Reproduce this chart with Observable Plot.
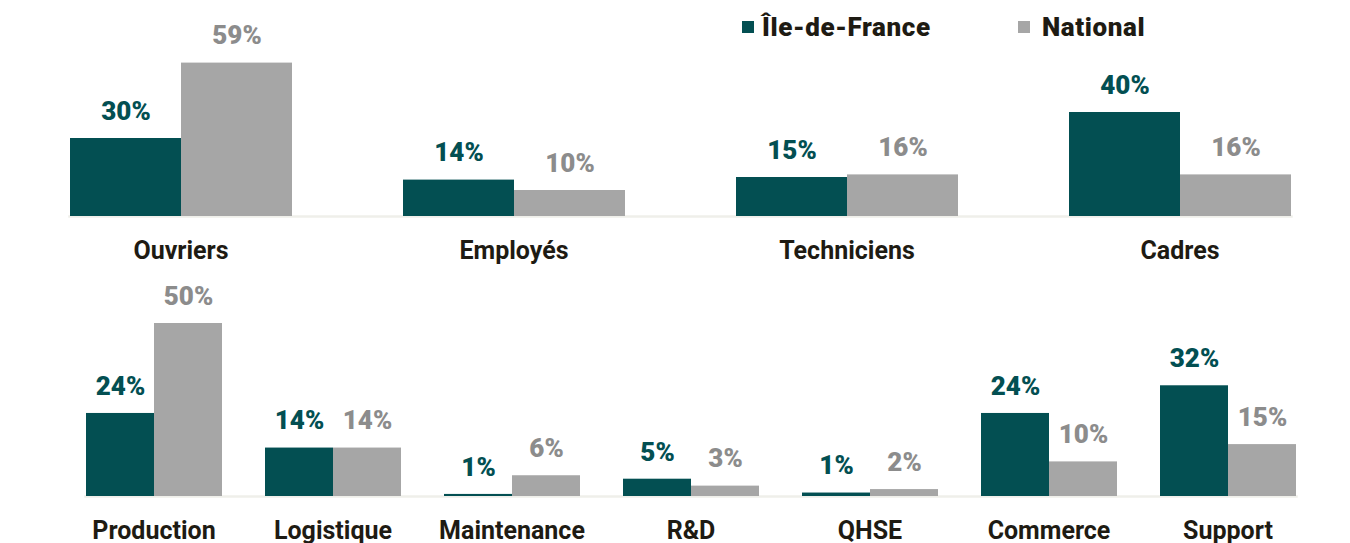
<!DOCTYPE html>
<html>
<head>
<meta charset="utf-8">
<script src="https://cdn.jsdelivr.net/npm/d3@7"></script>
<script src="https://cdn.jsdelivr.net/npm/@observablehq/plot@0.6"></script>
<style>
  html, body { margin: 0; padding: 0; background: #fff; }
  body { width: 1350px; height: 543px; position: relative; overflow: hidden; font-family: Roboto, "Noto Sans", sans-serif; }
  #legend { position: absolute; top: 0; left: 0; width: 1350px; height: 50px; z-index: 2; }
  .lg { position: absolute; display: flex; align-items: center; font-weight: 900; font-size: 26px; color: #1e1b13; letter-spacing: 0.6px; }
  .sw { width: 12px; height: 12px; }
  #top, #bottom { position: absolute; left: 0; }
  #top { top: 0; }
  #bottom { top: 275px; }
</style>
</head>
<body>
<div id="legend"></div>
<div id="top"></div>
<div id="bottom"></div>
<script>
// ---- data ----
const series = ["Île-de-France", "National"];
const seriesColors = ["#034f52", "#a6a6a6"];
const labelColors = ["#034f52", "#8c8c8c"];

const topCategories = ["Ouvriers", "Employés", "Techniciens", "Cadres"];
const topIdf = [30, 14, 15, 40];
const topNational = [59, 10, 16, 16];

const bottomCategories = ["Production", "Logistique", "Maintenance", "R&D", "QHSE", "Commerce", "Support"];
const bottomIdf = [24, 14, 0.6, 5, 1, 24, 32];
const bottomNational = [50, 14, 6, 3, 2, 10, 15];

// ---- build tables ----
function table(cats, a, b) {
  const rows = [];
  cats.forEach((c, i) => {
    rows.push({cat: c, series: series[0], value: a[i]});
    rows.push({cat: c, series: series[1], value: b[i]});
  });
  return rows;
}

function chart(cats, rows, opts) {
  return Plot.plot({
    width: 1350,
    height: opts.height,
    marginLeft: opts.left,
    marginRight: opts.right,
    marginTop: 0,
    marginBottom: opts.bottom,
    style: {fontFamily: "Roboto, 'Noto Sans', sans-serif", background: "transparent"},
    fx: {domain: cats, paddingInner: opts.pad, paddingOuter: opts.pad / 2, label: null, axis: null},
    x: {domain: series, padding: 0, axis: null},
    y: {domain: [0, opts.ymax], axis: null},
    color: {domain: series, range: seriesColors},
    marks: [
      Plot.frame({anchor: "bottom", facet: "super", stroke: "#efefea", strokeWidth: 2.5}),
      Plot.barY(rows, {fx: "cat", x: "series", y: "value", fill: "series"}),
      Plot.text(rows, {
        fx: "cat", x: "series", y: "value",
        text: d => Math.round(d.value) + "%",
        fill: d => labelColors[series.indexOf(d.series)],
        dy: -27, fontSize: 26, fontWeight: 900, letterSpacing: 1.2
      }),
      Plot.axisFx({anchor: "bottom", tickSize: 0, tickPadding: opts.tickPad, fontSize: 25, fontWeight: 700, fill: "#1e1b13", label: null, letterSpacing: 0.3})
    ]
  });
}

document.getElementById("top").append(
  chart(topCategories, table(topCategories, topIdf, topNational),
        {height: 275, left: 14, right: 4, bottom: 59, pad: 0.33, ymax: 216 / 2.6, tickPad: 25})
);
document.getElementById("bottom").append(
  chart(bottomCategories, table(bottomCategories, bottomIdf, bottomNational),
        {height: 268, left: 62, right: 30, bottom: 47, pad: 0.232, ymax: 221 / 3.46, tickPad: 25})
);

// ---- legend ----
const legendPos = [742, 1018];
const legendGap = [8, 12];
const lg = document.getElementById("legend");
series.forEach((s, i) => {
  const item = document.createElement("div");
  item.className = "lg";
  item.style.left = legendPos[i] + "px";
  item.style.top = "12px";
  const sw = document.createElement("div");
  sw.className = "sw";
  sw.style.background = seriesColors[i];
  sw.style.marginRight = legendGap[i] + "px";
  const t = document.createElement("span");
  t.textContent = s;
  item.append(sw, t);
  lg.append(item);
});
</script>
</body>
</html>
